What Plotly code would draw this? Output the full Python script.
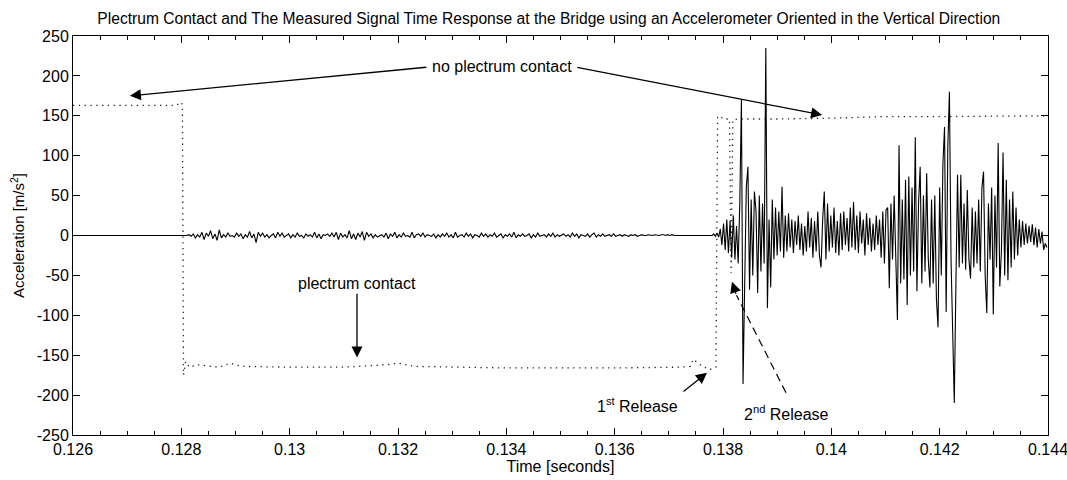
import plotly.graph_objects as go

# ---------------- data ----------------
# dotted trace: plectrum contact signal (time [s], value)
contact_t = [0.1260, 0.1279, 0.12796, 0.12800, 0.12802, 0.12804, 0.12808, 0.12815, 0.1283,
             0.1287, 0.1289, 0.1291, 0.1300, 0.1310, 0.1315, 0.1318, 0.1320, 0.1323, 0.1340,
             0.1360, 0.1372, 0.1374, 0.13745, 0.1376, 0.13775, 0.13787, 0.13790, 0.13795,
             0.13800, 0.13812, 0.13815, 0.13818, 0.1383, 0.1390, 0.1400, 0.1410, 0.1420, 0.1440]
contact_v = [163, 163, 165, 167, 163, -175, -158, -165, -162,
             -165, -160, -164, -165, -165, -163, -162, -160, -164, -166,
             -166, -165, -164, -155, -163, -168, -165, 148, 150,
             146, 146, -47, 145, 146, 146, 147, 149, 149, 150]

# solid trace: quiet part before the pluck
quiet_t = [0.1260, 0.1281]
quiet_v = [0, 0]

# small noise while the plectrum is in contact
noise_start = 0.1281
noise_step = 0.00004
noise_v = [0, 1, -1, 2, -3, 1, -2, 4, -5, 3, -1, 6, -4, 2, -6, 7, -3, 1, -2, 3,
           -1, 0, -2, 3, -1, 2, -4, 1, -2, 5, -3, 2, -9, 4, -1, 3, -2, 1, -3, 0,
           2, -3, 4, -1, 3, -2, 0, 2, -3, 1, -2, 3, -1, 0, -3, 2, -1, 1, -2, 4,
           -3, 2, -4, 1, 0, 2, -1, 3, -2, 4, -5, 3, -2, 1, -3, 6, -4, 2, -5, 3,
           -2, 5, -6, 4, -1, 2, -3, 1, -2, 0, 1, -2, 3, -4, 2, -1, 4, -3, 1, -2,
           3, -1, 0, -2, 4, -3, 1, 2, -1, 3, -2, 1, 0, -1, 2, -3, 1, -2, 2, -1,
           3, -2, 1, -3, 4, -2, 0, 1, -2, 3, -1, 2, -3, 1, 0, -2, 3, -1, 2, -2,
           1, -1, 3, -2, 0, 2, -3, 1, -1, 2, -2, 4, -3, 1, -1, 2, -1, 0, 2, -3,
           1, -2, 3, -1, 0, 1, -2, 2, -1, 3, -2, 1, -1, 0, 2, -1, 1, -2, 3, -1,
           2, -3, 1, 0, -1, 2, -2, 1, 3, -2, 1, -1, 2, -1, 0, 1, -1, 2, -1, 0,
           1, -1, 1, 0, -1, 1, 0, 1, -1, 0, 1, 0, 0, 1, 0, 0, 1, 0, 0, 1,
           1, 0, 1, 0, 1, 0, 0]

# vibration after release
vib_start = 0.1378
vib_step = 0.00003
vib_v = [0, 2, -1, 3, -2, 8, -12, 15, -18, 20,
         -22, 18, -28, 25, -30, 12, -35, 40, 170, -186,
         -65, 60, 86, -68, 45, -50, 55, 30, -72, 50,
         -45, 40, -35, 235, -91, 20, -65, 45, -30, 35,
         -25, 30, -20, 61, -28, 25, -20, 28, -15, 20,
         -22, 18, -12, 25, -18, 15, -25, 12, -20, 30,
         -15, 22, -28, 18, -20, 30, -25, -40, 20, 55,
         -30, 40, -20, 25, -15, 35, -22, 18, -25, 28,
         -18, 30, -12, 22, -20, 35, -15, 42, -18, 25,
         -22, 30, -10, 20, -25, 28, -12, 22, -20, 15,
         -18, 25, -12, 20, -28, 30, -35, 32, 35, -66,
         40, -30, 50, -45, -106, 113, -60, 45, -55, 70,
         -87, 74, -50, 60, -45, 123, -70, 40, 86, -60,
         50, -45, 78, -30, -65, 45, -60, 50, -80, -115,
         60, -50, 90, 136, -96, 110, 180, -30, -140, -210,
         -60, 76, -40, 76, -35, 40, -43, 57, -30, -54,
         35, -40, 30, -35, 45, -45, 60, 80, -50, -97,
         40, -30, 60, -99, 50, -40, 116, -64, -20, 104,
         -50, 70, -56, 45, -40, 55, -30, 35, -25, 20,
         -15, 18, -12, 15, -10, 12, -8, 14, -12, 10,
         -15, 8, -10, 5, -18, -10, -15]

x_tickvals = [0.126, 0.128, 0.130, 0.132, 0.134, 0.136, 0.138, 0.140, 0.142, 0.144]
x_ticktext = ["0.126", "0.128", "0.13", "0.132", "0.134", "0.136", "0.138", "0.14", "0.142", "0.144"]
y_tickvals = [-250, -200, -150, -100, -50, 0, 50, 100, 150, 200, 250]
y_ticktext = ["-250", "-200", "-150", "-100", "-50", "0", "50", "100", "150", "200", "250"]

# ---------------- build traces ----------------
noise_t = [noise_start + i * noise_step for i in range(len(noise_v))]
vib_t = [vib_start + i * vib_step for i in range(len(vib_v))]
signal_t = quiet_t + noise_t + vib_t
signal_v = quiet_v + noise_v + vib_v

FONT = "Liberation Sans, Arial, sans-serif"
AFS = 16

fig = go.Figure()
fig.add_trace(go.Scatter(x=contact_t, y=contact_v, mode="lines",
                         line=dict(color="#222222", width=1.3, dash="1.3px,4.5px"),
                         hoverinfo="skip", showlegend=False))
fig.add_trace(go.Scatter(x=signal_t, y=signal_v, mode="lines",
                         line=dict(color="black", width=1.1),
                         hoverinfo="skip", showlegend=False))
# invisible trace on the mirrored (top / right) axes so that they get drawn
fig.add_trace(go.Scatter(x=[0.126, 0.144], y=[0, 0], xaxis="x2", yaxis="y2", mode="lines",
                         line=dict(width=0), hoverinfo="skip", showlegend=False))

arrow = dict(xref="x", yref="y", axref="x", ayref="y", text="", showarrow=True,
             arrowhead=2, arrowsize=1.7, arrowwidth=1.3, arrowcolor="black")
ann = []
ann.append(dict(x=0.13392, y=212, xref="x", yref="y", text="no plectrum contact",
                showarrow=False, font=dict(size=AFS, color="black", family=FONT)))
ann.append(dict(arrow, x=0.12705, y=175, ax=0.13255, ay=211))
ann.append(dict(arrow, x=0.13983, y=151, ax=0.13528, ay=211))
ann.append(dict(x=0.131243, y=-60, xref="x", yref="y", text="plectrum contact",
                showarrow=False, font=dict(size=AFS, color="black", family=FONT)))
ann.append(dict(arrow, x=0.131243, y=-153, ax=0.131243, ay=-71))
ann.append(dict(x=0.13643, y=-213, xref="x", yref="y", text="1<sup>st</sup> Release",
                showarrow=False, font=dict(size=AFS, color="black", family=FONT)))
ann.append(dict(arrow, x=0.137705, y=-172, ax=0.137243, ay=-197))
ann.append(dict(x=0.139163, y=-222, xref="x", yref="y", text="2<sup>nd</sup> Release",
                showarrow=False, font=dict(size=AFS, color="black", family=FONT)))
ann.append(dict(arrow, x=0.138166, y=-58, ax=0.13825, ay=-75))

shapes = [dict(type="line", xref="x", yref="y", x0=0.139163, y0=-197, x1=0.13825, y1=-75,
               line=dict(color="black", width=1.2, dash="8px,5px"))]

axis_common = dict(ticks="inside", ticklen=7, tickwidth=1, tickcolor="black",
                   showline=True, linecolor="black", linewidth=1,
                   showgrid=False, zeroline=False, automargin=False)
x_minor = dict(dtick=0.0005, tick0=0.126, ticks="inside", ticklen=4,
               tickcolor="black", showgrid=False)

fig.update_layout(
    template="none",
    width=1067, height=480,
    margin=dict(l=73, r=19, t=36, b=45, autoexpand=False),
    paper_bgcolor="white", plot_bgcolor="white",
    font=dict(family=FONT, size=16, color="black"),
    title=dict(text="Plectrum Contact and The Measured Signal Time Response at the Bridge using an Accelerometer Oriented in the Vertical Direction",
               x=0.488, xref="paper", xanchor="center", y=0.962, yanchor="middle",
               font=dict(size=15.6, family=FONT, color="black")),
    annotations=ann, shapes=shapes,
    xaxis=dict(axis_common, range=[0.126, 0.144], tickvals=x_tickvals, ticktext=x_ticktext,
               minor=x_minor, ticklabeloverflow="allow",
               title=dict(text="Time [seconds]", standoff=2, font=dict(size=16)),
               tickfont=dict(size=16)),
    xaxis2=dict(axis_common, range=[0.126, 0.144], tickvals=x_tickvals, showticklabels=False,
                overlaying="x", side="top", anchor="y2", minor=x_minor),
    yaxis=dict(axis_common, range=[-250, 250], tickvals=y_tickvals, ticktext=y_ticktext,
               ticklabeloverflow="allow",
               title=dict(text="Acceleration [m/s<sup>2</sup>]", standoff=8, font=dict(size=15)),
               tickfont=dict(size=16)),
    yaxis2=dict(axis_common, range=[-250, 250], tickvals=y_tickvals, showticklabels=False,
                overlaying="y", side="right", anchor="x2"),
)

fig.write_html("out.html")
